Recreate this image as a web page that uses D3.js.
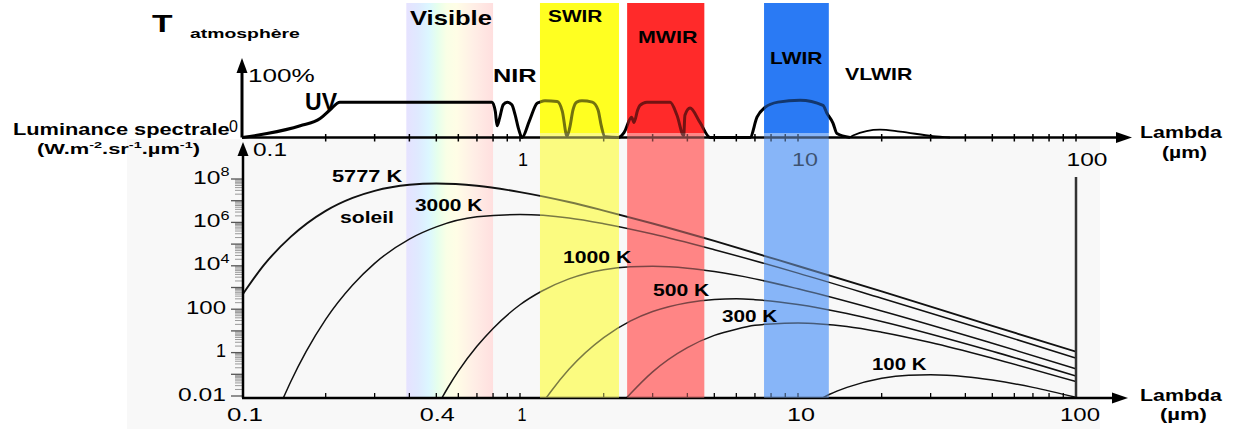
<!DOCTYPE html>
<html><head><meta charset="utf-8">
<script src="https://cdn.jsdelivr.net/npm/d3@7"></script>
<style>html,body{margin:0;padding:0;background:#fff;}svg{display:block;font-family:"Liberation Sans",Arial,sans-serif;}</style>
</head><body><svg id="c" width="1236" height="429"></svg>
<script>
// ---------------- DATA ----------------
const bandNames = ["SWIR", "MWIR", "LWIR"];
const bandStart = [1.18, 2.43, 7.55];
const bandEnd = [2.27, 4.6, 12.9];
const visibleRange = [0.39, 0.8];

// atmospheric transmission (%)
const transLambda = [0.1, 0.123, 0.162, 0.191, 0.207, 0.225, 0.37, 0.56, 0.793, 0.815, 0.827, 0.845, 0.87, 0.90, 0.935, 0.96, 0.99, 1.017, 1.08, 1.151, 1.18, 1.23, 1.36, 1.42, 1.476, 1.51, 1.551, 1.6, 1.671, 1.82, 1.909, 1.96, 2.022, 2.252, 2.37, 2.52, 2.57, 2.65, 2.70, 2.86, 3.47, 3.67, 3.88, 3.92, 4.09, 4.44, 4.83, 6.72, 7.12, 7.61, 8.47, 10.17, 12.3, 12.71, 13.36, 13.81, 15.38, 15.77, 19.72, 23.28, 30.59, 35.22];
const transValue = [0, 6, 18, 29, 42, 54, 54, 54, 54, 40, 18, 30, 50, 54, 50, 35, 12, 0, 25, 52, 54, 56, 55, 40, 2, 15, 42, 54, 56, 54, 42, 18, 1, 0, 8, 31, 23, 42, 49, 54, 54, 34, 3, 34, 45, 23, 0, 0, 31, 46, 54, 57, 49, 37, 22, 6, 0, 3, 12, 9, 2, 0];

// spectral luminance curves (W.m-2.sr-1.µm-1)
const temperatures = [5777, 3000, 1000, 500, 300, 100];
const lambda5777 = [0.1, 0.12, 0.15, 0.2, 0.25, 0.3, 0.4, 0.5, 0.7, 1, 1.5, 2, 3, 5, 10, 20, 50, 100];
const lum5777 = [4.3e2, 1.1e4, 2.2e5, 3.4e6, 1.35e7, 2.85e7, 5.4e7, 6.2e7, 4.9e7, 2.5e7, 8.7e6, 3.5e6, 8.9e5, 1.4e5, 9.8e3, 660, 17, 1.1];
const lambda3000 = [0.14, 0.15, 0.17, 0.2, 0.25, 0.3, 0.4, 0.5, 0.7, 1, 1.5, 2, 3, 5, 10, 20, 50, 100];
const lum3000 = [6.9e-3, 4.8e-2, 1.1, 34, 1.3e3, 1.3e4, 1.7e5, 6.2e5, 1.8e6, 2.3e6, 1.6e6, 8.7e5, 2.9e5, 5.5e4, 4.6e3, 320, 8.9, 0.56];
const lambda1000 = [0.5, 0.55, 0.6, 0.7, 0.8, 1, 1.2, 1.5, 2, 2.5, 3, 4, 5, 7, 10, 20, 50, 100];
const lum1000 = [2.8e-3, 2.4e-2, 0.14, 1.95, 13, 160, 690, 2.5e3, 6.6e3, 9.1e3, 9.5e3, 7.8e3, 5.4e3, 2.5e3, 870, 83, 2.7, 0.18];
const lambda500 = [1.2, 1.3, 1.5, 2, 2.5, 3, 4, 5, 6, 7, 10, 15, 20, 50, 100];
const lum500 = [4.4e-3, 1.8e-2, 0.17, 4.9, 29, 78, 200, 280, 300, 275, 166, 63, 27, 1.15, 0.083];
const lambda300 = [2.4, 2.5, 3, 4, 5, 6, 7, 8, 10, 12, 15, 20, 30, 50, 100];
const lum300 = [7.4e-3, 1.3e-2, 0.13, 1.7, 6.2, 12, 18, 21, 23, 21, 16, 8.7, 2.9, 0.55, 0.046];
const lambda100 = [12, 13, 15, 20, 25, 30, 40, 50, 70, 100];
const lum100 = [6.9e-3, 1.2e-2, 2.5e-2, 6.6e-2, 9.1e-2, 9.5e-2, 7.8e-2, 5.4e-2, 2.5e-2, 8.7e-3];

const xTickValues = [0.1, 0.4, 1, 10, 100];
const xTickLabels = ["0.1", "0.4", "1", "10", "100"];
const topTickValues = [0.1, 1, 10, 100];
const topTickLabels = ["0.1", "1", "10", "100"];
const yTickValues = [1e-2, 1, 100, 1e4, 1e6, 1e8];
const yTickBase = ["0.01", "1", "100", "10", "10", "10"];
const yTickExp = ["", "", "", "4", "6", "8"];

// ---------------- LAYOUT ----------------
const svg = d3.select("#c");
const x = d3.scaleLog().domain([0.1, 100]).range([242, 1076]);
const yT = d3.scaleLinear().domain([0, 100]).range([137.5, 72]);
const yB = d3.scaleLog().domain([1e-2, 1e8]).range([396, 179]);
const AX_TOP = 137.5, AX_BOT = 398;

svg.append("rect").attr("width", 1236).attr("height", 429).attr("fill", "#fff");
svg.append("rect").attr("x", 127).attr("y", 139).attr("width", 973).attr("height", 290).attr("fill", "#f8f8f8");

const defs = svg.append("defs");
const grad = defs.append("linearGradient").attr("id", "vis").attr("x1", 0).attr("x2", 1).attr("y1", 0).attr("y2", 0);
[["0%", "#e6e2ff"], ["14%", "#dfeaff"], ["26%", "#dcf7ff"], ["36%", "#e6ffec"], ["46%", "#f9ffe6"], ["58%", "#fffde6"], ["78%", "#ffeee6"], ["100%", "#ffdfdf"]]
  .forEach(s => grad.append("stop").attr("offset", s[0]).attr("stop-color", s[1]));
defs.append("clipPath").attr("id", "plot").append("rect")
  .attr("x", x(0.1)).attr("y", 140).attr("width", x(100) - x(0.1)).attr("height", AX_BOT - 140);

svg.append("rect").attr("x", x(visibleRange[0])).attr("y", 3)
  .attr("width", x(visibleRange[1]) - x(visibleRange[0])).attr("height", AX_BOT - 3).attr("fill", "url(#vis)");

const topCol = ["#ffff22", "#ff2a2a", "#2a7bf5"];
const botCol = ["#fbfb80", "#ff8585", "#88b5f8"];
function drawBands(op) {
  bandNames.forEach((n, i) => {
    const x0 = x(bandStart[i]), x1 = x(bandEnd[i]);
    svg.append("rect").attr("x", x0).attr("y", 3).attr("width", x1 - x0).attr("height", 130).attr("fill", topCol[i]).attr("opacity", op);
    svg.append("rect").attr("x", x0).attr("y", 133).attr("width", x1 - x0).attr("height", AX_BOT - 133).attr("fill", botCol[i]).attr("opacity", op);
  });
}
drawBands(1);

// ---- text helper (stretched like the reference) ----
function label(parts, left, base, size, weight, width, fill) {
  const t = svg.append("text").attr("font-size", size).attr("font-weight", weight).attr("fill", fill || "#000");
  let shifted = false;
  parts.forEach(p => {
    if (typeof p === "string") {
      const s = t.append("tspan").text(p);
      if (shifted) { s.attr("dy", size * 0.4); shifted = false; }
    } else {
      t.append("tspan").text(p.sup).attr("font-size", size * 0.66).attr("dy", -size * 0.4);
      shifted = true;
    }
  });
  const bb = t.node().getBBox();
  const sx = width ? width / bb.width : 1;
  t.attr("transform", `translate(${left},${base}) scale(${sx},1)`);
  return t;
}

// ---- top panel: transmission ----
const tData = transLambda.map((l, i) => [l, transValue[i]]);
const tLine = d3.line().x(d => x(d[0])).y(d => yT(d[1])).curve(d3.curveMonotoneX);
svg.append("path").attr("d", tLine(tData.filter(d => d[0] <= 15.38)))
  .attr("fill", "none").attr("stroke", "#000").attr("stroke-width", 3).attr("stroke-linejoin", "round");
svg.append("path").attr("d", tLine(tData.filter(d => d[0] >= 15.38)))
  .attr("fill", "none").attr("stroke", "#000").attr("stroke-width", 1.8);

// top axes
const minorVals = [];
[0.1, 1, 10].forEach(d => { for (let k = 1; k <= 9; k++) minorVals.push(+(k * d).toPrecision(3)); });
minorVals.push(100);
svg.append("line").attr("x1", x(0.1)).attr("x2", 1118).attr("y1", AX_TOP).attr("y2", AX_TOP).attr("stroke", "#000").attr("stroke-width", 2.5);
svg.append("path").attr("d", `M1132,${AX_TOP} L1116,${AX_TOP - 5.5} L1116,${AX_TOP + 5.5} Z`).attr("fill", "#000");
svg.append("line").attr("x1", x(0.1)).attr("x2", x(0.1)).attr("y1", AX_TOP).attr("y2", 70).attr("stroke", "#000").attr("stroke-width", 3);
svg.append("path").attr("d", `M${x(0.1)},58 L${x(0.1) - 5.5},73 L${x(0.1) + 5.5},73 Z`).attr("fill", "#000");
svg.selectAll(".tt").data(minorVals.filter(v => v > 0.1)).enter().append("line")
  .attr("x1", d => x(d)).attr("x2", d => x(d)).attr("y1", AX_TOP - 3.5).attr("y2", AX_TOP + 4)
  .attr("stroke", "#000").attr("stroke-width", 1.5);

// ---- bottom panel: luminance ----
const series = [[lambda5777, lum5777], [lambda3000, lum3000], [lambda1000, lum1000], [lambda500, lum500], [lambda300, lum300], [lambda100, lum100]];
const bLine = d3.line().x(d => x(d[0])).y(d => yB(d[1])).curve(d3.curveMonotoneX);
const gCurves = svg.append("g").attr("clip-path", "url(#plot)");
series.forEach((s, i) => {
  gCurves.append("path").attr("d", bLine(s[0].map((l, j) => [l, s[1][j]])))
    .attr("fill", "none").attr("stroke", "#111").attr("stroke-width", i === 0 ? 1.9 : 1.5);
});

// vertical line at 100 µm
svg.append("line").attr("x1", x(100)).attr("x2", x(100)).attr("y1", yB(1e8) - 2).attr("y2", AX_BOT)
  .attr("stroke", "#333").attr("stroke-width", 2.5);

// y axis minor ticks
const yMinor = [], yMajor = [];
for (let e = -2; e <= 8; e++) {
  yMajor.push(Math.pow(10, e));
  if (e < 8) for (let k = 2; k <= 9; k++) yMinor.push(k * Math.pow(10, e));
}
svg.selectAll(".ym").data(yMinor).enter().append("line")
  .attr("x1", 235).attr("x2", 243).attr("y1", d => yB(d)).attr("y2", d => yB(d)).attr("stroke", "#999").attr("stroke-width", 1);
svg.selectAll(".yM").data(yMajor).enter().append("line")
  .attr("x1", 231).attr("x2", 243).attr("y1", d => yB(d)).attr("y2", d => yB(d)).attr("stroke", "#555").attr("stroke-width", 1.3);

// bottom axes
svg.append("line").attr("x1", x(0.1)).attr("x2", 1113).attr("y1", AX_BOT).attr("y2", AX_BOT).attr("stroke", "#000").attr("stroke-width", 2.5);
svg.append("path").attr("d", `M1128,${AX_BOT} L1112,${AX_BOT - 5.5} L1112,${AX_BOT + 5.5} Z`).attr("fill", "#000");
svg.append("line").attr("x1", 243).attr("x2", 243).attr("y1", AX_BOT).attr("y2", 152).attr("stroke", "#000").attr("stroke-width", 2.5);
svg.append("path").attr("d", `M243,142 L237.5,156 L248.5,156 Z`).attr("fill", "#000");
svg.selectAll(".bt").data(minorVals.filter(v => v > 0.1 && v < 100)).enter().append("line")
  .attr("x1", d => x(d)).attr("x2", d => x(d)).attr("y1", AX_BOT - 5).attr("y2", AX_BOT)
  .attr("stroke", "#000").attr("stroke-width", 1.3);

// tick labels
const topDx = [28, 3, 7, 11], topW = [34, 10, 26, 41], topBase = [156, 166, 166, 166];
topTickValues.forEach((v, i) => label([topTickLabels[i]], x(v) + topDx[i] - topW[i] / 2, topBase[i], 18, "normal", topW[i]));
const botDx = [3, 28, 2, 3, 4], botW = [36, 35, 9, 28, 40];
xTickValues.forEach((v, i) => label([xTickLabels[i]], x(v) + botDx[i] - botW[i] / 2, 421, 18, "normal", botW[i]));
const yW = [48, 10, 40, 37, 37, 37];
yTickValues.forEach((v, i) => {
  const parts = yTickExp[i] ? [yTickBase[i], { sup: yTickExp[i] }] : [yTickBase[i]];
  const left = yTickExp[i] ? 193 : 226 - yW[i];
  label(parts, left, yB(v) + 4.5, 18, "normal", yW[i]);
});

// band overlays (tint the curves/axes inside the bands)
drawBands(0.45);

// ---- annotations ----
label(["T"], 152, 32, 24, "bold", 21);
label(["atmosphère"], 190, 38, 13, "bold", 110);
label(["100%"], 248, 82, 19, "normal", 67);
label(["0"], 229, 132, 16, "normal", 9);
label(["UV"], 305, 110, 24, "bold", 32);
label(["Visible"], 410, 25, 20, "bold", 82);
label(["NIR"], 493, 82, 19, "bold", 44);
const bandLab = [[548, 22, 16, 55], [638, 43, 16, 60], [770, 64, 16, 53]];
bandNames.forEach((n, i) => label([n], bandLab[i][0], bandLab[i][1], bandLab[i][2], "bold", bandLab[i][3]));
label(["VLWIR"], 845, 80, 16, "bold", 68);
label(["Luminance spectrale"], 13, 135, 16, "bold", 217);
label(["(W.m", { sup: "-2" }, ".sr", { sup: "-1" }, ".µm", { sup: "-1" }, ")"], 37, 154, 15, "bold", 163);
label(["Lambda"], 1140, 138, 16, "bold", 82);
label(["(µm)"], 1162, 158, 16, "bold", 45);
label(["Lambda"], 1140, 401, 16, "bold", 82);
label(["(µm)"], 1160, 420, 16, "bold", 47);

const curveLab = [[332, 182, 71], [415, 211, 68], [563, 263, 69], [653, 296, 57], [722, 322, 56], [872, 370, 55]];
temperatures.forEach((t, i) => label([t + " K"], curveLab[i][0], curveLab[i][1], 16, "bold", curveLab[i][2]));
label(["soleil"], 340, 223, 16, "bold", 54);
</script></body></html>
